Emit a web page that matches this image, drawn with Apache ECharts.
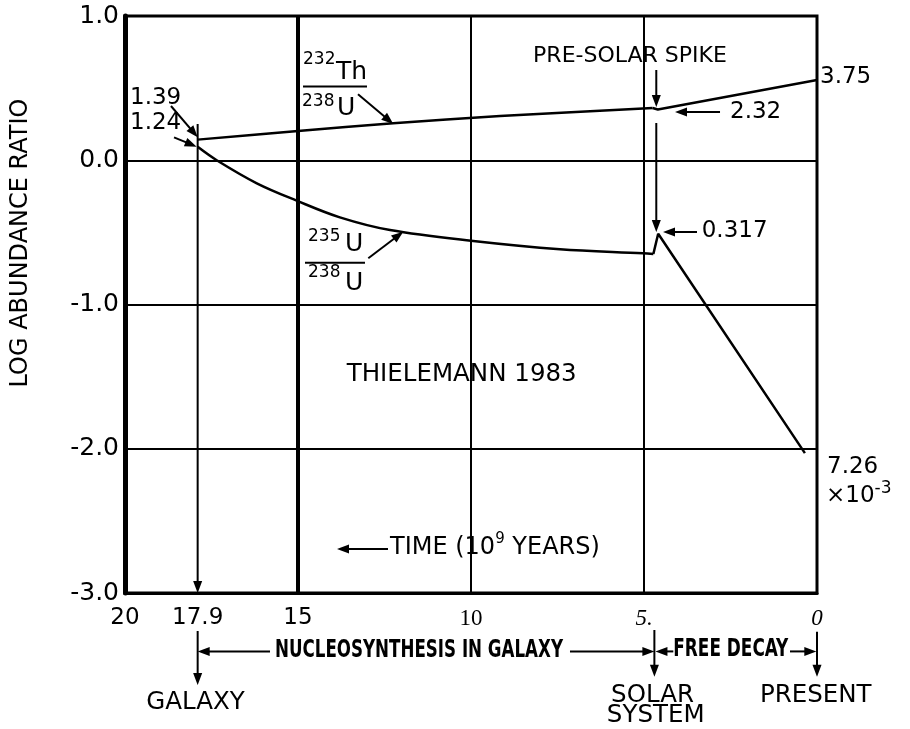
<!DOCTYPE html>
<html>
<head>
<meta charset="utf-8">
<script src="https://cdn.jsdelivr.net/npm/echarts@6.0.0/dist/echarts.min.js"></script>
<style>
html, body { margin: 0; padding: 0; background: #fff; }
#main { width: 910px; height: 729px; }
</style>
</head>
<body>
<div id="main"></div>
<script>
// time in 10^9 years before present, log10 of abundance ratio
var thGalaxyTime = [17.9, 15, 12.25, 9.16, 4.75];
var thGalaxyLog = [0.143, 0.203, 0.256, 0.307, 0.362];
var thDecayTime = [4.75, 4.6, 0];
var thDecayLog = [0.362, 0.352, 0.556];

var uGalaxyTime = [17.9, 17.35, 16.19, 15.04, 13.79, 12.34, 10, 7.43, 5.03, 4.73];
var uGalaxyLog = [0.093, 0.0, -0.16, -0.28, -0.396, -0.484, -0.558, -0.617, -0.645, -0.65];
var uDecayTime = [4.73, 4.59, 0.35];
var uDecayLog = [-0.65, -0.51, -2.03];

var xTickValues = [20, 17.9, 15, 10, 5, 0];

var SANS = '"DejaVu Sans", sans-serif';
var COND = '"DejaVu Sans Condensed", "DejaVu Sans", sans-serif';
var SERIF = '"Liberation Serif", "DejaVu Serif", serif';

function pairs(xs, ys) {
  return xs.map(function (x, i) { return [x, ys[i]]; });
}

var chart = echarts.init(document.getElementById('main'));

var lineStyle = { color: '#000', width: 2.5 };

var option = {
  animation: false,
  backgroundColor: '#fff',
  grid: { left: 125, right: 93, top: 16, bottom: 136, show: true, borderColor: '#000', borderWidth: 3 },
  xAxis: {
    type: 'value', inverse: true, min: 0, max: 20, interval: 5,
    axisLine: { show: true, onZero: false, lineStyle: { color: '#000', width: 3 } },
    axisTick: { show: false },
    splitLine: { show: true, lineStyle: { color: '#000', width: 2 } },
    axisLabel: {
      customValues: xTickValues,
      margin: 14,
      color: '#000',
      formatter: function (v) {
        if (v === 10) return '{r|10}';
        if (v === 5) return '{i|5.}';
        if (v === 0) return '{i|0}';
        return '{s|' + v + '}';
      },
      rich: {
        s: { fontFamily: SANS, fontSize: 23, color: '#000' },
        r: { fontFamily: SERIF, fontSize: 23, color: '#000' },
        i: { fontFamily: SERIF, fontSize: 23, fontStyle: 'italic', color: '#000' }
      }
    }
  },
  yAxis: {
    type: 'value', min: -3, max: 1, interval: 1,
    axisLine: { show: true, onZero: false, lineStyle: { color: '#000', width: 5 } },
    axisTick: { show: false },
    splitLine: { show: true, lineStyle: { color: '#000', width: 2 } },
    axisLabel: {
      color: '#000', fontFamily: SANS, fontSize: 25, margin: 6,
      formatter: function (v) { return v.toFixed(1); }
    }
  },
  series: [
    {
      name: 'Th232/U238', type: 'line', data: pairs(thGalaxyTime, thGalaxyLog),
      smooth: 0.3, symbol: 'none', lineStyle: lineStyle, silent: true,
      markLine: {
        silent: true, symbol: ['none', 'none'], label: { show: false },
        lineStyle: { color: '#000', width: 4, type: 'solid' },
        data: [{ xAxis: 15 }]
      }
    },
    {
      name: 'Th232/U238 decay', type: 'line', data: pairs(thDecayTime, thDecayLog),
      symbol: 'none', lineStyle: lineStyle, silent: true
    },
    {
      name: 'U235/U238', type: 'line', data: pairs(uGalaxyTime, uGalaxyLog),
      smooth: 0.35, symbol: 'none', lineStyle: lineStyle, silent: true
    },
    {
      name: 'U235/U238 decay', type: 'line', data: pairs(uDecayTime, uDecayLog),
      symbol: 'none', lineStyle: lineStyle, silent: true
    }
  ]
};
chart.setOption(option);

// annotations, placed in data coordinates
var arrows = [
  [[18.671, 0.3762], [17.899, 0.1591]],
  [[18.584, 0.1591], [17.928, 0.0939]],
  [[13.266, 0.4572], [12.246, 0.2513]],
  [[12.968, -0.6797], [11.957, -0.4953]],
  [[4.645, 0.6257], [4.645, 0.3691]],
  [[4.645, 0.2582], [4.645, -0.4974]],
  [[2.803, 0.3345], [4.104, 0.3345]],
  [[3.468, -0.4974], [4.451, -0.4974]],
  [[12.399, -2.6949], [13.873, -2.6949]],
  [[17.9, 0.2513], [17.9, -3]],
  [[17.9, -3.2635], [17.9, -3.6379]],
  [[15.809, -3.405], [17.9, -3.405]],
  [[7.139, -3.405], [4.70, -3.405]],
  [[4.70, -3.2565], [4.70, -3.5802]],
  [[4.153, -3.405], [4.67, -3.405]],
  [[0.78, -3.405], [0.02, -3.405]],
  [[0, -3.268], [0, -3.58]]
];
var bars = [
  [[14.855, 0.512], [13.006, 0.512]],
  [[14.798, -0.710], [13.064, -0.710]]
];
var labels = [
  { text: '1.39', at: [19.855, 0.4315], size: 23 },
  { text: '1.24', at: [19.855, 0.2548], size: 23 },
  { text: '232', at: [14.855, 0.695], size: 17 },
  { text: 'Th', at: [13.902, 0.605], size: 25 },
  { text: '238', at: [14.884, 0.404], size: 17 },
  { text: 'U', at: [13.873, 0.359], size: 25 },
  { text: '235', at: [14.711, -0.5286], size: 17 },
  { text: 'U', at: [13.642, -0.5806], size: 25 },
  { text: '238', at: [14.711, -0.7816], size: 17 },
  { text: 'U', at: [13.642, -0.851], size: 25 },
  { text: 'PRE-SOLAR SPIKE', at: [5.405, 0.7227], size: 22, align: 'center' },
  { text: '2.32', at: [2.514, 0.3345], size: 23 },
  { text: '3.75', at: [-0.087, 0.5737], size: 23 },
  { text: '0.317', at: [3.332, -0.4905], size: 23 },
  { text: 'THIELEMANN 1983', at: [10.269, -1.4887], size: 24.5, align: 'center' },
  { text: '{a|TIME (10}{s|9}{a| YEARS)}', at: [12.341, -2.688], size: 24, sup: 15 },
  { text: '7.26', at: [-0.289, -2.13], size: 23 },
  { text: '{a|×10}{s|-3}', at: [-0.26, -2.3276], size: 23, sup: 17 },
  { text: 'GALAXY', at: [17.962, -3.7591], size: 24.5, align: 'center' },
  { text: 'SOLAR', at: [4.754, -3.7106], size: 24.5, align: 'center' },
  { text: 'SYSTEM', at: [4.662, -3.8527], size: 24.5, align: 'center' },
  { text: 'PRESENT', at: [0.035, -3.7106], size: 24.5, align: 'center' }
];
var narrowLabels = [
  { text: 'NUCLEOSYNTHESIS IN GALAXY', at: [15.665, -3.4015], width: 288 },
  { text: 'FREE DECAY', at: [4.153, -3.3900], width: 115 }
];

function toPx(p) {
  return chart.convertToPixel({ gridIndex: 0 }, p);
}

function arrowShape(a, b) {
  var p = toPx(a), q = toPx(b);
  var dx = q[0] - p[0], dy = q[1] - p[1];
  var len = Math.sqrt(dx * dx + dy * dy);
  var ux = dx / len, uy = dy / len;
  var L = 12, W = 4.5;
  var bx = q[0] - ux * L, by = q[1] - uy * L;
  return [
    { type: 'line', silent: true, shape: { x1: p[0], y1: p[1], x2: bx + ux * 2, y2: by + uy * 2 },
      style: { stroke: '#000', lineWidth: 2 } },
    { type: 'polygon', silent: true,
      shape: { points: [q, [bx - uy * W, by + ux * W], [bx + uy * W, by - ux * W]] },
      style: { fill: '#000' } }
  ];
}

var measure = document.createElement('canvas').getContext('2d');

var graphics = [];
arrows.forEach(function (a) { graphics = graphics.concat(arrowShape(a[0], a[1])); });
bars.forEach(function (b) {
  var p = toPx(b[0]), q = toPx(b[1]);
  graphics.push({ type: 'line', silent: true, shape: { x1: p[0], y1: p[1], x2: q[0], y2: q[1] },
    style: { stroke: '#000', lineWidth: 2 } });
});
labels.forEach(function (l) {
  var p = toPx(l.at);
  var style = {
    text: l.text, fill: '#000', fontFamily: SANS, fontSize: l.size,
    align: l.align || 'left', verticalAlign: 'middle',
    textAlign: l.align || 'left', textVerticalAlign: 'middle'
  };
  if (l.sup) {
    style.rich = {
      a: { fontFamily: SANS, fontSize: l.size, lineHeight: l.size + 8, fill: '#000' },
      s: { fontFamily: SANS, fontSize: l.sup, lineHeight: l.sup, verticalAlign: 'top', fill: '#000' }
    };
  }
  graphics.push({ type: 'text', silent: true, x: p[0], y: p[1], style: style });
});
narrowLabels.forEach(function (l) {
  var p = toPx(l.at);
  measure.font = 'bold 25px ' + COND;
  var w = measure.measureText(l.text).width;
  graphics.push({
    type: 'text', silent: true, x: p[0], y: p[1], scaleX: l.width / w,
    style: {
      text: l.text, fill: '#000', fontFamily: COND, fontWeight: 'bold', fontSize: 25,
      align: 'left', verticalAlign: 'middle', textAlign: 'left', textVerticalAlign: 'middle'
    }
  });
});
graphics.push({
  type: 'text', silent: true, x: 21, y: 243, rotation: Math.PI / 2,
  style: {
    text: 'LOG ABUNDANCE RATIO', fill: '#000', fontFamily: SANS, fontSize: 24,
    align: 'center', verticalAlign: 'middle', textAlign: 'center', textVerticalAlign: 'middle'
  }
});

chart.setOption({ graphic: graphics });
</script>
</body>
</html>
